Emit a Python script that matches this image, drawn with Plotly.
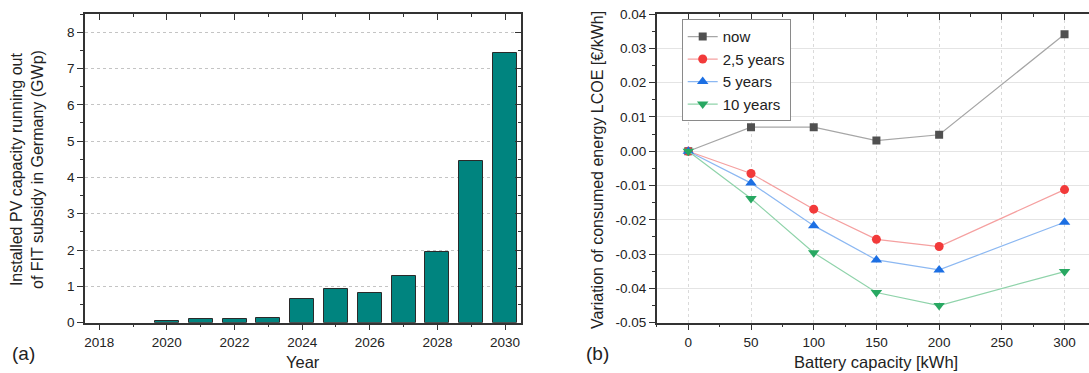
import plotly.graph_objects as go

# ---- data: panel (a)
years = [2018, 2019, 2020, 2021, 2022, 2023, 2024, 2025, 2026, 2027, 2028, 2029, 2030]
pv_capacity = [0.0, 0.0, 0.05, 0.10, 0.10, 0.13, 0.65, 0.94, 0.83, 1.28, 1.94, 4.44, 7.44]

# ---- data: panel (b)
battery_kwh = [0, 50, 100, 150, 200, 300]
lcoe_now = [0.0, 0.0070, 0.0070, 0.0031, 0.0048, 0.0341]
lcoe_2_5y = [0.0, -0.0065, -0.0169, -0.0257, -0.0278, -0.0112]
lcoe_5y = [0.0, -0.0093, -0.0217, -0.0317, -0.0346, -0.0207]
lcoe_10y = [0.0, -0.0138, -0.0296, -0.0412, -0.0450, -0.0351]
series_names = ["now", "2,5 years", "5 years", "10 years"]

yb_ticks = [-0.05, -0.04, -0.03, -0.02, -0.01, 0.0, 0.01, 0.02, 0.03, 0.04]
yb_labels = ["-0.05", "-0.04", "-0.03", "-0.02", "-0.01", "0.00", "0.01", "0.02", "0.03", "0.04"]

W, H = 1089, 373
FONT = "Liberation Sans, Arial, sans-serif"
TXT = "#222222"
AX = "#333333"

def px_x(p):
    return p / W

def px_y(p):
    return 1 - p / H

ydom = [px_y(322.7), px_y(14)]
xdom_a = [px_x(85), px_x(521)]
xdom_b = [px_x(656.7), 1.0]
xr_a = [2017.58, 2030.47]
xr_b = [-25.2, 319.5]

fig = go.Figure()

fig.add_trace(go.Bar(
    x=years, y=pv_capacity, width=0.71,
    marker=dict(color="#00847f",
                line=dict(color="#2a2a2a", width=[0 if v == 0 else 1 for v in pv_capacity])),
    xaxis="x", yaxis="y", showlegend=False, hoverinfo="x+y",
))

styles = [
    (lcoe_now, "square", "#505050", "#a6a6a6", 8),
    (lcoe_2_5y, "circle", "#f23a3a", "#f5a0a0", 9),
    (lcoe_5y, "triangle-up", "#1c6fe3", "#8cb8f2", 10),
    (lcoe_10y, "triangle-down", "#28a862", "#8fd3aa", 10),
]
for name, (vals, sym, mc, lc, ms) in zip(series_names, styles):
    fig.add_trace(go.Scatter(
        x=battery_kwh, y=vals, name=name, mode="lines+markers",
        line=dict(color=lc, width=1.2),
        marker=dict(symbol=sym, color=mc, size=ms),
        xaxis="x2", yaxis="y2",
    ))

# invisible helper traces (same data) so the mirrored inward-tick axes get drawn
for xv, yv, xa, ya in [(years, pv_capacity, "x3", "y"),
                       (years, pv_capacity, "x", "y3"),
                       (battery_kwh, lcoe_now, "x4", "y2")]:
    fig.add_trace(go.Scatter(x=xv, y=yv, xaxis=xa, yaxis=ya, mode="markers",
                             marker=dict(opacity=0, size=1), showlegend=False,
                             hoverinfo="skip"))

tickfont = dict(family=FONT, size=13.5, color=TXT)
common = dict(showline=True, linecolor=AX, linewidth=1.5, ticks="outside",
              ticklen=6, tickwidth=1.2, tickcolor=AX, zeroline=False,
              tickfont=tickfont, automargin=False)
over = dict(showline=False, ticks="inside", ticklen=6, tickwidth=1.2,
            tickcolor=AX, showticklabels=False, showgrid=False, zeroline=False,
            automargin=False)

fig.update_layout(
    width=W, height=H,
    margin=dict(l=0, r=0, t=0, b=0, pad=0),
    paper_bgcolor="white", plot_bgcolor="white",
    font=dict(family=FONT, color=TXT),
    bargap=0,
    xaxis=dict(domain=xdom_a, anchor="y", range=xr_a, tickmode="linear",
               tick0=2018, dtick=2, showgrid=False, mirror=True,
               minor=dict(ticks="outside", ticklen=3, dtick=1, tick0=2018,
                          tickcolor=AX, showgrid=False),
               **common),
    yaxis=dict(domain=ydom, anchor="x", range=[0, 8.5], tickmode="linear",
               tick0=0, dtick=1, showgrid=True, gridcolor="#c4c4c4",
               griddash="dot", gridwidth=1, mirror=True,
               minor=dict(ticks="outside", ticklen=3, dtick=0.5, tick0=0,
                          tickcolor=AX, showgrid=False),
               **common),
    xaxis3=dict(overlaying="x", anchor="y", side="top", range=xr_a,
                tickmode="linear", tick0=2018, dtick=2,
                minor=dict(ticks="inside", ticklen=3, dtick=1, tick0=2018,
                           tickcolor=AX, showgrid=False), **over),
    yaxis3=dict(overlaying="y", anchor="x", side="right", range=[0, 8.5],
                tickmode="linear", tick0=0, dtick=1,
                minor=dict(ticks="inside", ticklen=3, dtick=0.5, tick0=0,
                           tickcolor=AX, showgrid=False), **over),
    xaxis2=dict(domain=xdom_b, anchor="y2", range=xr_b, tickmode="linear",
                tick0=0, dtick=50, showgrid=True, gridcolor="#dadada",
                griddash="dot", gridwidth=1, mirror=True,
                minor=dict(ticks="outside", ticklen=3, dtick=25, tick0=0,
                           tickcolor=AX, showgrid=False),
                **common),
    yaxis2=dict(domain=ydom, anchor="x2", range=[-0.05, 0.04],
                tickmode="array", tickvals=yb_ticks, ticktext=yb_labels,
                showgrid=True, gridcolor="#e4e4e4", gridwidth=1, mirror=False,
                minor=dict(ticks="outside", ticklen=3, dtick=0.005, tick0=0,
                           tickcolor=AX, showgrid=False),
                **common),
    xaxis4=dict(overlaying="x2", anchor="y2", side="top", range=xr_b,
                tickmode="linear", tick0=0, dtick=50,
                minor=dict(ticks="inside", ticklen=3, dtick=25, tick0=0,
                           tickcolor=AX, showgrid=False), **over),
    legend=dict(x=px_x(681.7), y=px_y(19.3), xanchor="left", yanchor="top",
                bgcolor="white", bordercolor="#8a8a8a", borderwidth=1,
                font=dict(family=FONT, size=15, color=TXT),
                tracegroupgap=0, itemwidth=30),
)

ann = [
    dict(text="Installed PV capacity running out<br>of FIT subsidy in Germany (GWp)",
         x=px_x(27), y=px_y(170), textangle=-90, size=16),
    dict(text="Variation of consumed energy LCOE [€/kWh]",
         x=px_x(597), y=px_y(170), textangle=-90, size=16),
    dict(text="Year", x=px_x(303), y=px_y(362), textangle=0, size=16.5),
    dict(text="Battery capacity [kWh]", x=px_x(876), y=px_y(362), textangle=0, size=16.5),
    dict(text="(a)", x=px_x(23), y=px_y(353), textangle=0, size=19),
    dict(text="(b)", x=px_x(597), y=px_y(353), textangle=0, size=19),
]
for a in ann:
    fig.add_annotation(text=a["text"], x=a["x"], y=a["y"], xref="paper", yref="paper",
                       xanchor="center", yanchor="middle", showarrow=False,
                       textangle=a["textangle"],
                       font=dict(family=FONT, size=a["size"], color=TXT))

fig.write_html("out.html")
